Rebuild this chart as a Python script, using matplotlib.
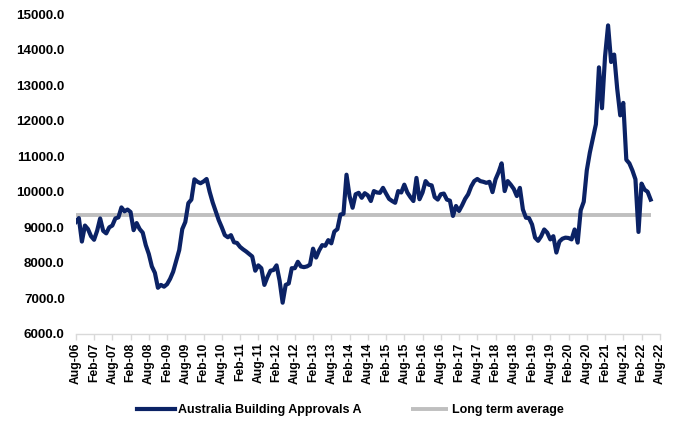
import matplotlib
matplotlib.use("Agg")
import matplotlib.pyplot as plt
import numpy as np

plt.rcParams['font.family'] = ['Liberation Sans', 'DejaVu Sans']

# Monthly building approvals, Aug-2006 to May-2022
approvals = [
    9150, 9260, 8600, 9050, 8950, 8750, 8650, 8900, 9250, 8900,
    8830, 9000, 9050, 9250, 9280, 9560, 9450, 9500, 9430, 8920,
    9120, 8950, 8850, 8500, 8250, 7900, 7720, 7300, 7380, 7330,
    7400, 7550, 7750, 8050, 8360, 8950, 9150, 9680, 9780, 10350,
    10280, 10240, 10290, 10360, 10000, 9700, 9450, 9200, 9000, 8780,
    8720, 8780, 8580, 8560, 8450, 8380, 8320, 8250, 8180, 7780,
    7930, 7850, 7380, 7600, 7780, 7800, 7930, 7500, 6880, 7380,
    7420, 7850, 7850, 8030, 7900, 7880, 7900, 7950, 8400, 8150,
    8350, 8500, 8480, 8640, 8550, 8880, 8950, 9360, 9380, 10480,
    9880, 9550, 9930, 9970, 9830, 9960, 9900, 9740, 10020, 9980,
    9970, 10110, 9950, 9800, 9740, 9690, 10020, 9980, 10200, 9980,
    9850, 9740, 10390, 9790, 9980, 10300, 10200, 10180, 9850, 9780,
    9930, 9950, 9780, 9750, 9320, 9600, 9460, 9620, 9800, 9930,
    10150, 10300, 10360, 10300, 10280, 10250, 10280, 9990, 10350, 10550,
    10800, 10020, 10300, 10200, 10080, 9880, 10110, 9500, 9270, 9260,
    9080, 8710, 8620, 8750, 8940, 8850, 8660, 8750, 8290, 8600,
    8680, 8710, 8700, 8660, 8940, 8570, 9480, 9720, 10600, 11100,
    11500, 11900, 13500, 12350, 13800, 14680, 13650, 13860, 12900, 12150,
    12500, 10900, 10800, 10600, 10350, 8870, 10230, 10060, 10000, 9780,
]
long_term_average = 9360

tick_labels = []
for k in range(33):
    month = "Aug" if k % 2 == 0 else "Feb"
    year = 6 + (k + 1) // 2
    tick_labels.append(f"{month}-{year:02d}")

months = np.arange(len(approvals))

fig = plt.figure(figsize=(6.83, 4.21), dpi=100)
ax = fig.add_axes([0.111, 0.2067, 0.855, 0.76])

navy = "#0B2265"
grey = "#BFBFBF"

ax.plot(months, [long_term_average] * len(months), color=grey, lw=2.8,
        solid_capstyle="butt", label="Long term average", zorder=2)
ax.plot(months, approvals, color=navy, lw=3.0, solid_joinstyle="round",
        label="Australia Building Approvals A", zorder=3)

ax.set_xlim(0, 192)
ax.set_ylim(6000, 15000)
ax.set_yticks(np.arange(6000, 15001, 1000))
ax.set_yticklabels([f"{v:.1f}" for v in np.arange(6000, 15001, 1000)],
                   fontsize=9.6, fontweight="bold")
ax.set_xticks(np.arange(0, 193, 6))
ax.set_xticklabels(tick_labels, rotation=90, fontsize=8.7, fontweight="bold")

for side in ("top", "right", "left"):
    ax.spines[side].set_visible(False)
ax.spines["bottom"].set_color("#D9D9D9")
ax.spines["bottom"].set_linewidth(1.0)
ax.tick_params(axis="y", length=0, pad=8)
ax.tick_params(axis="x", length=4, color="#D9D9D9", width=1.0, pad=2)

handles, labels = ax.get_legend_handles_labels()
leg = fig.legend(handles[::-1], labels[::-1], loc="center", ncol=2,
                 bbox_to_anchor=(0.513, 0.026), frameon=False,
                 prop={"size": 9, "weight": "bold"}, handlelength=3.0,
                 columnspacing=3.9, handletextpad=0.3)

fig.savefig("out.png", dpi=100)
